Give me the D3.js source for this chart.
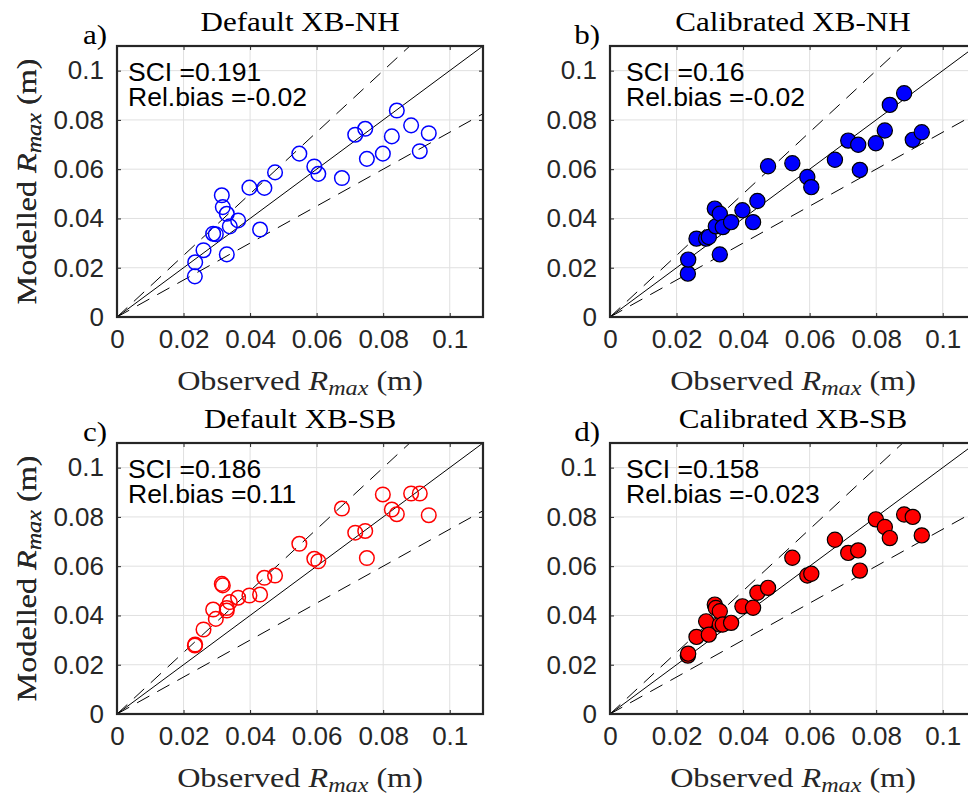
<!DOCTYPE html>
<html>
<head>
<meta charset="utf-8">
<script src="https://cdn.jsdelivr.net/npm/d3@7"></script>
<style>
  body { margin: 0; background: #fff; }
  svg { display: block; }
</style>
</head>
<body>
<svg></svg>
<script>
// OBSERVED Rmax (m), same x for every panel
const observed = [0.0234, 0.0235, 0.0260, 0.0289, 0.0297, 0.0315, 0.0318, 0.0330, 0.0330, 0.0339,
  0.0364, 0.0398, 0.0430, 0.0443, 0.0475, 0.0548, 0.0593, 0.0605, 0.0676, 0.0716,
  0.0746, 0.0751, 0.0799, 0.0826, 0.0841, 0.0884, 0.0910, 0.0937];

// MODELLED Rmax (m), one list per panel
const defaultNH = [0.0165, 0.0222, 0.0271, 0.0338, 0.0336, 0.0494, 0.0446, 0.0254, 0.0419, 0.0368,
  0.0392, 0.0525, 0.0355, 0.0524, 0.0587, 0.0663, 0.0611, 0.0581, 0.0564, 0.0740,
  0.0764, 0.0642, 0.0663, 0.0733, 0.0838, 0.0778, 0.0673, 0.0746];
const calibratedNH = [0.0176, 0.0233, 0.0318, 0.0318, 0.0325, 0.0440, 0.0368, 0.0254, 0.0419, 0.0365,
  0.0385, 0.0433, 0.0385, 0.0471, 0.0612, 0.0624, 0.0568, 0.0527, 0.0638, 0.0716,
  0.0699, 0.0597, 0.0705, 0.0757, 0.0861, 0.0908, 0.0719, 0.0750];
const defaultSB = [0.0278, 0.0282, 0.0343, 0.0424, 0.0386, 0.0528, 0.0522, 0.0420, 0.0430, 0.0454,
  0.0472, 0.0481, 0.0485, 0.0553, 0.0562, 0.0691, 0.0630, 0.0620, 0.0834, 0.0736,
  0.0743, 0.0633, 0.0891, 0.0830, 0.0811, 0.0895, 0.0895, 0.0807];
const calibratedSB = [0.0237, 0.0245, 0.0313, 0.0376, 0.0322, 0.0444, 0.0430, 0.0363, 0.0417, 0.0363,
  0.0370, 0.0437, 0.0431, 0.0492, 0.0512, 0.0634, 0.0562, 0.0569, 0.0707, 0.0654,
  0.0664, 0.0582, 0.0790, 0.0759, 0.0714, 0.0810, 0.0800, 0.0725];

const panelTitles = ['Default XB-NH', 'Calibrated XB-NH', 'Default XB-SB', 'Calibrated XB-SB'];
const panelLetters = ['a)', 'b)', 'c)', 'd)'];
const sciValues = ['0.191', '0.16', '0.186', '0.158'];
const relBiasValues = ['-0.02', '-0.02', '0.11', '-0.023'];
const tickValues = [0, 0.02, 0.04, 0.06, 0.08, 0.1];
const axisMax = 0.11;
// 1:1 line and the +-25 % lines
const ratioLines = [1, 1.25, 0.75];

const width = 968;
const height = 799;
const plotW = 366;
const plotH = 271;
const axisColor = '#262626';
const sans = '"Liberation Sans", Arial, Helvetica, sans-serif';
const serif = '"Liberation Serif", "Times New Roman", serif';
const stretch = 1.15; // LaTeX font is wider than Times

const svg = d3.select('svg')
  .attr('width', width)
  .attr('height', height);

const panels = [
  { modelled: defaultNH, color: '#0000ff', filled: false, left: 117, top: 46, textDx: 11 },
  { modelled: calibratedNH, color: '#0000ff', filled: true, left: 610, top: 46, textDx: 16 },
  { modelled: defaultSB, color: '#ff0000', filled: false, left: 117, top: 443, textDx: 11 },
  { modelled: calibratedSB, color: '#ff0000', filled: true, left: 610, top: 443, textDx: 16 }
];

// serif text, stretched along the writing direction
function serifText(parent, x, y, size, anchor, rotate) {
  return parent.append('text')
    .attr('transform', `translate(${x},${y})` + (rotate ? ` rotate(${rotate})` : '') + ` scale(${stretch},1)`)
    .attr('font-family', serif)
    .attr('font-size', size)
    .attr('text-anchor', anchor)
    .attr('fill', axisColor);
}

function rmaxLabel(textSel, word) {
  textSel.append('tspan').text(word + ' ');
  textSel.append('tspan').attr('font-style', 'italic').text('R');
  textSel.append('tspan').attr('font-style', 'italic').attr('font-size', 21).attr('dy', 5).text('max');
  textSel.append('tspan').attr('dy', -5).text(' (m)');
}

panels.forEach((p, i) => {
  const x = d3.scaleLinear().domain([0, axisMax]).range([0, plotW]);
  const y = d3.scaleLinear().domain([0, axisMax]).range([plotH, 0]);

  const g = svg.append('g').attr('transform', `translate(${p.left},${p.top})`);

  g.append('clipPath').attr('id', 'clip' + i)
    .append('rect').attr('width', plotW).attr('height', plotH);

  // GRID
  const grid = g.append('g').attr('stroke', '#e0e0e0').attr('stroke-width', 1);
  grid.selectAll('.gx').data(tickValues.filter(d => d > 0)).enter().append('line')
    .attr('x1', d => x(d)).attr('x2', d => x(d))
    .attr('y1', 0).attr('y2', plotH);
  grid.selectAll('.gy').data(tickValues.filter(d => d > 0)).enter().append('line')
    .attr('x1', 0).attr('x2', plotW)
    .attr('y1', d => y(d)).attr('y2', d => y(d));

  // REFERENCE LINES
  g.append('g').attr('clip-path', `url(#clip${i})`)
    .selectAll('line').data(ratioLines).enter().append('line')
    .attr('x1', x(0)).attr('y1', y(0))
    .attr('x2', x(axisMax)).attr('y2', r => y(axisMax * r))
    .attr('stroke', '#000')
    .attr('stroke-width', 1)
    .attr('stroke-dasharray', r => r === 1 ? null : '14,9');

  // POINTS
  g.append('g').selectAll('circle').data(observed).enter().append('circle')
    .attr('cx', d => x(d))
    .attr('cy', (d, j) => y(p.modelled[j]))
    .attr('r', p.filled ? 7.6 : 7.3)
    .attr('fill', p.filled ? p.color : 'none')
    .attr('stroke', p.filled ? '#000' : p.color)
    .attr('stroke-width', p.filled ? 1.2 : 1.5);

  // AXES
  const fmt = d => String(d);
  const xAxis = g.append('g').attr('transform', `translate(0,${plotH})`)
    .call(d3.axisBottom(x).tickValues(tickValues).tickSizeInner(-4).tickSizeOuter(0).tickPadding(13).tickFormat(fmt));
  const yAxis = g.append('g')
    .call(d3.axisLeft(y).tickValues(tickValues).tickSizeInner(-4).tickSizeOuter(0).tickPadding(13).tickFormat(fmt));
  const tAxis = g.append('g')
    .call(d3.axisTop(x).tickValues(tickValues).tickSizeInner(-4).tickSizeOuter(0).tickFormat(''));
  const rAxis = g.append('g').attr('transform', `translate(${plotW},0)`)
    .call(d3.axisRight(y).tickValues(tickValues).tickSizeInner(-4).tickSizeOuter(0).tickFormat(''));
  [xAxis, yAxis, tAxis, rAxis].forEach(a => {
    a.select('.domain').remove();
    a.attr('color', axisColor)
      .attr('font-family', sans)
      .attr('font-size', 26);
    a.selectAll('.tick line').attr('stroke-width', 1);
  });

  g.append('rect')
    .attr('width', plotW).attr('height', plotH)
    .attr('fill', 'none')
    .attr('stroke', axisColor)
    .attr('stroke-width', 2.2);

  // STATS TEXT
  const stats = g.append('text')
    .attr('font-family', sans)
    .attr('font-size', 26.5)
    .attr('fill', '#000');
  stats.append('tspan').attr('x', p.textDx).attr('y', 35).text('SCI =' + sciValues[i]);
  stats.append('tspan').attr('x', p.textDx).attr('y', 60).text('Rel.bias =' + relBiasValues[i]);

  // TITLES & LABELS
  serifText(g, plotW / 2, -15, 27, 'middle').attr('fill', '#000').text(panelTitles[i]);
  serifText(g, -10, -2, 27, 'end').attr('fill', '#000').text(panelLetters[i]);
  rmaxLabel(serifText(g, plotW / 2, plotH + 73, 28, 'middle'), 'Observed');
  rmaxLabel(serifText(g, 36 - p.left, plotH / 2, 28, 'middle', -90), 'Modelled');
});
</script>
</body>
</html>
